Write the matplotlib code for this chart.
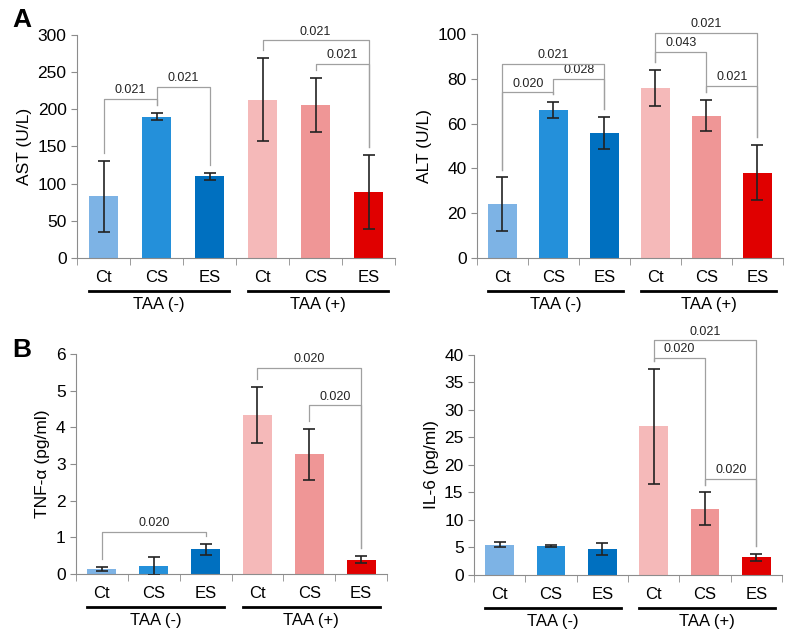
import numpy as np
import matplotlib
matplotlib.use("Agg")
import matplotlib.pyplot as plt
import matplotlib.transforms as mtransforms

plt.rcParams['font.family'] = ['Liberation Sans', 'DejaVu Sans']

# categories / groups
cats = ["Ct", "CS", "ES", "Ct", "CS", "ES"]
groups = ["TAA (-)", "TAA (+)"]
colors = ["#7DB3E5", "#2490DA", "#0070C0", "#F5B9B9", "#EF9696", "#E00000"]

# AST
ast_mean = [83, 190, 110, 213, 206, 89]
ast_err = [48, 5, 5, 56, 36, 50]
ast_brk = [(0, 1, 214, "0.021"), (1, 2, 230, "0.021"), (3, 5, 293, "0.021"), (4, 5, 261, "0.021")]

# ALT
alt_mean = [24, 66, 55.7, 76, 63.6, 38]
alt_err = [12, 3.5, 7.2, 8, 7, 12.3]
alt_brk = [(0, 1, 74, "0.020"), (1, 2, 80, "0.028"), (0, 2, 86.6, "0.021"),
           (3, 4, 92, "0.043"), (4, 5, 77, "0.021"), (3, 5, 100.4, "0.021")]

# TNF-a
tnf_mean = [0.14, 0.22, 0.67, 4.33, 3.26, 0.39]
tnf_err = [0.05, 0.25, 0.15, 0.77, 0.69, 0.1]
tnf_brk = [(0, 2, 1.15, "0.020"), (3, 5, 5.62, "0.020"), (4, 5, 4.6, "0.020")]

# IL-6
il6_mean = [5.5, 5.2, 4.8, 27, 12, 3.2]
il6_err = [0.5, 0.2, 1.1, 10.5, 3, 0.6]
il6_brk = [(3, 4, 39.5, "0.020"), (3, 5, 42.7, "0.021"), (4, 5, 17.5, "0.020")]

fig = plt.figure(figsize=(7.9, 6.32), dpi=100)

panels = [
    ([0.0975, 0.5918, 0.4025, 0.3528], ast_mean, ast_err, ast_brk, 300, 50, "AST (U/L)"),
    ([0.6038, 0.5918, 0.3872, 0.3544], alt_mean, alt_err, alt_brk, 100, 20, "ALT (U/L)"),
    ([0.0962, 0.0918, 0.3937, 0.3481], tnf_mean, tnf_err, tnf_brk, 6, 1, "TNF-\u03b1 (pg/ml)"),
    ([0.6000, 0.0902, 0.3900, 0.3481], il6_mean, il6_err, il6_brk, 40, 5, "IL-6 (pg/ml)"),
]

gray = "#8C8C8C"
x = np.arange(len(cats))

for rect, mean, err, brk, ymax, step, ylab in panels:
    ax = fig.add_axes(rect)
    ax.bar(x, mean, width=0.56, color=colors, zorder=2)
    ax.errorbar(x, mean, yerr=err, fmt="none", ecolor="#222222", elinewidth=1.2,
                capsize=4, capthick=1.2, zorder=3)
    ax.set_xlim(-0.5, 5.5)
    ax.set_ylim(0, ymax)
    ax.set_yticks(np.arange(0, ymax + step / 2, step))
    ax.set_xticks(x)
    ax.set_xticklabels(cats, fontsize=12)
    ax.set_xticks(np.arange(-0.5, 6, 1), minor=True)
    ax.tick_params(axis="x", which="major", length=0, pad=9)
    ax.tick_params(axis="x", which="minor", length=5, color=gray)
    ax.tick_params(axis="y", length=4, color=gray, labelsize=12.5)
    ax.set_ylabel(ylab, fontsize=12.5)
    for s in ["top", "right"]:
        ax.spines[s].set_visible(False)
    for s in ["left", "bottom"]:
        ax.spines[s].set_color(gray)

    # significance brackets
    tops = np.array(mean) + np.array(err)
    gap = 0.035 * ymax
    for i, j, h, lab in brk:
        ax.plot([i, i, j, j], [tops[i] + gap, h, h, tops[j] + gap], color="#A0A0A0",
                lw=0.9, clip_on=False, zorder=4)
        ax.text((i + j) / 2, h + 0.012 * ymax, lab, ha="center", va="bottom", fontsize=9,
                color="#222222", clip_on=False)

    # group lines and labels
    tr_line = mtransforms.offset_copy(ax.get_xaxis_transform(), fig=fig, y=-33, units="dots")
    tr_lab = mtransforms.offset_copy(ax.get_xaxis_transform(), fig=fig, y=-47, units="dots")
    for g, start in enumerate([0, 3]):
        ax.plot([start - 0.28, start + 2.36], [0, 0], color="black", lw=2,
                transform=tr_line, clip_on=False)
        ax.text(start + 1.04, 0, groups[g], ha="center", va="center", fontsize=12,
                transform=tr_lab)

fig.text(0.016, 0.968, "A", fontsize=19, fontweight="bold", va="center")
fig.text(0.016, 0.446, "B", fontsize=19, fontweight="bold", va="center")

fig.savefig("out.png", dpi=100)
